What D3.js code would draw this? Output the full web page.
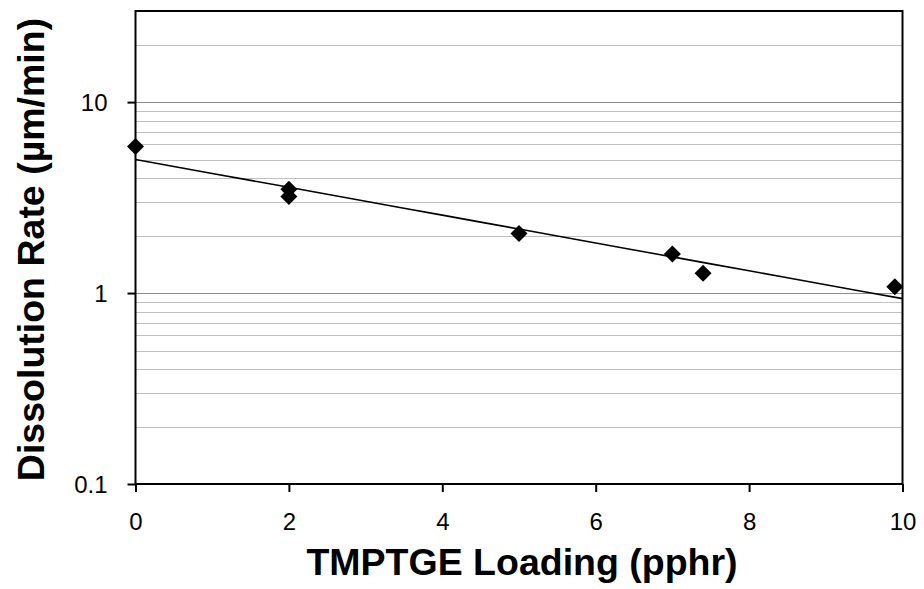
<!DOCTYPE html>
<html>
<head>
<meta charset="utf-8">
<script src="https://cdn.jsdelivr.net/npm/d3@7"></script>
<style>
  html, body { margin: 0; padding: 0; background: #fff; }
  svg { display: block; font-family: "Liberation Sans", Arial, sans-serif; }
</style>
</head>
<body>
<svg id="chart" width="924" height="589"></svg>
<script>
// data
const loadings = [0, 2, 2, 5, 7, 7.4, 9.9];
const rates = [5.85, 3.5, 3.2, 2.05, 1.6, 1.27, 1.08];
const xTicks = [0, 2, 4, 6, 8, 10];
const yTicks = [0.1, 1, 10];

const svg = d3.select('#chart');
const margin = { left: 135.5, right: 924 - 902.5, top: 11, bottom: 589 - 484 };
const W = 924 - margin.left - margin.right;
const H = 589 - margin.top - margin.bottom;

const x = d3.scaleLinear().domain([0, 10]).range([0, W]);
const y = d3.scaleLog().domain([0.1, 30]).range([H, 0]);

const g = svg.append('g').attr('transform', `translate(${margin.left},${margin.top})`);

// gridlines: every 1..9 step in each decade
const grid = [];
[0.1, 1, 10].forEach(base => {
  for (let k = 1; k <= 9; k++) {
    const v = +(base * k).toPrecision(3);
    if (v > 0.1 && v < 30) grid.push(v);
  }
});

g.selectAll('.grid')
  .data(grid)
  .enter().append('line')
  .attr('x1', 0).attr('x2', W)
  .attr('y1', d => Math.round(y(d)) + 0.5)
  .attr('y2', d => Math.round(y(d)) + 0.5)
  .attr('stroke', d => (d === 1 || d === 10) ? '#8a8d96' : '#c0c0c4')
  .attr('stroke-width', 1.2);

// frame
g.append('rect')
  .attr('x', 0).attr('y', 0).attr('width', W).attr('height', H)
  .attr('fill', 'none').attr('stroke', '#000').attr('stroke-width', 2);

// axes
const xAxis = g.append('g')
  .attr('transform', `translate(0,${H})`)
  .call(d3.axisBottom(x).tickValues(xTicks).tickSize(8).tickFormat(d3.format('d')));
const yAxis = g.append('g')
  .call(d3.axisLeft(y).tickValues(yTicks).tickSize(8).tickPadding(20).tickFormat(d => d));

[xAxis, yAxis].forEach(a => {
  a.attr('font-size', null).attr('font-family', null);
  a.select('.domain').remove();
  a.selectAll('.tick line').attr('stroke', '#000').attr('stroke-width', 2);
  a.selectAll('.tick text')
    .attr('fill', '#000')
    .style('font-size', '24px')
    .style('font-family', '"Liberation Sans", Arial, sans-serif');
});
xAxis.selectAll('.tick text').attr('y', 29).attr('dy', '0.71em');
yAxis.selectAll('.tick text').attr('dy', '0.35em');

// exponential trendline (least squares on ln y)
const n = loadings.length;
const lnR = rates.map(Math.log);
const mx = d3.mean(loadings), my = d3.mean(lnR);
let sxy = 0, sxx = 0;
for (let i = 0; i < n; i++) {
  sxy += (loadings[i] - mx) * (lnR[i] - my);
  sxx += (loadings[i] - mx) ** 2;
}
const b = sxy / sxx;
const a = Math.exp(my - b * mx);
const fit = d3.range(0, 10.01, 0.5).map(v => [v, a * Math.exp(b * v)]);

g.append('path')
  .datum(fit)
  .attr('fill', 'none')
  .attr('stroke', '#000')
  .attr('stroke-width', 1.6)
  .attr('d', d3.line().x(d => x(d[0])).y(d => y(d[1])));

// diamond markers
const s = 8.5;
g.selectAll('.pt')
  .data(loadings.map((v, i) => [v, rates[i]]))
  .enter().append('path')
  .attr('transform', d => `translate(${x(d[0])},${y(d[1])})`)
  .attr('d', `M0,${-s}L${s},0L0,${s}L${-s},0Z`)
  .attr('fill', '#000');

// axis titles
svg.append('text')
  .attr('x', 522).attr('y', 575)
  .attr('text-anchor', 'middle')
  .attr('font-size', '37.5px').attr('font-weight', 'bold')
  .text('TMPTGE Loading (pphr)');

svg.append('text')
  .attr('transform', `translate(44,${margin.top + H / 2 + 2}) rotate(-90)`)
  .attr('text-anchor', 'middle')
  .attr('font-size', '37.5px').attr('font-weight', 'bold')
  .text('Dissolution Rate (µm/min)');
</script>
</body>
</html>
